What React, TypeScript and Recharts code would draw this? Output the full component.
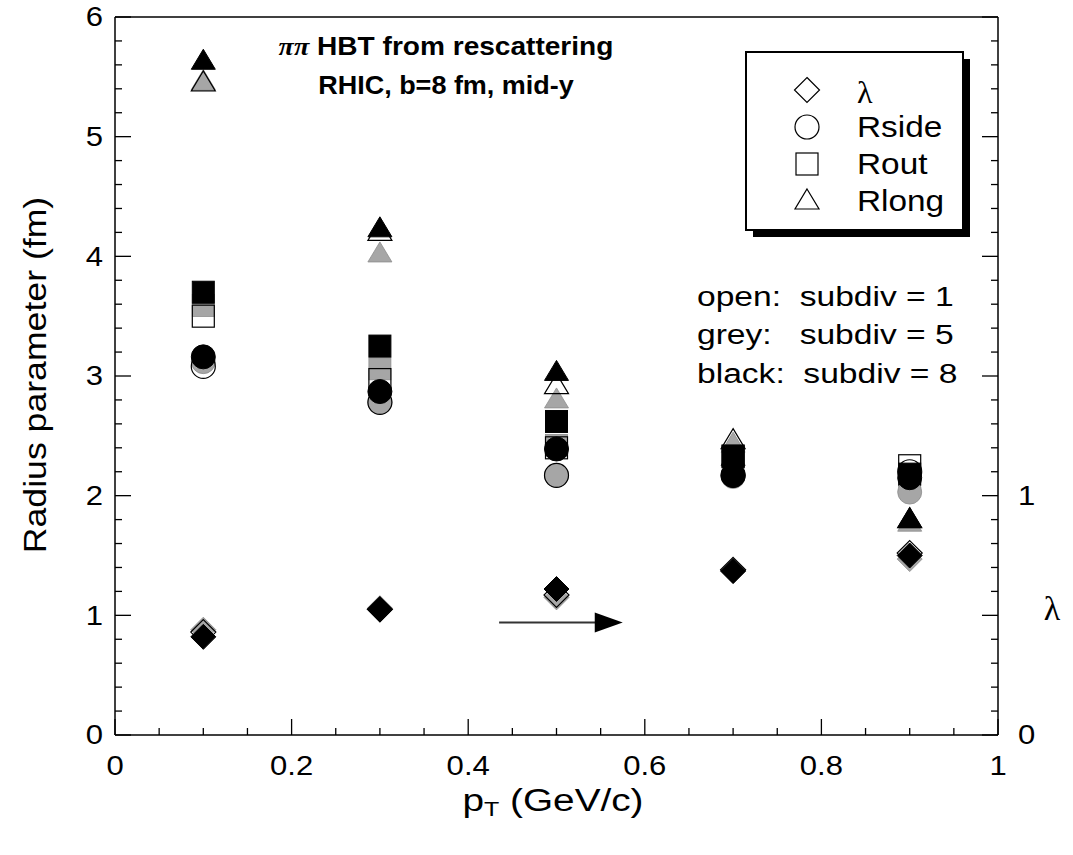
import { ScatterChart, Scatter, XAxis, YAxis, ReferenceLine } from 'recharts';

// transverse momentum bins (GeV/c)
const pT = [0.1, 0.3, 0.5, 0.7, 0.9];

// lambda (right axis)
const lambdaOpen = [0.43, 0.525, 0.585, 0.69, 0.76];
const lambdaGrey = [0.44, 0.53, 0.575, 0.685, 0.735];
const lambdaBlack = [0.41, 0.525, 0.61, 0.685, 0.75];

// radii (fm)
const rsideOpen = [3.08, 2.78, 2.17, 2.17, 2.2];
const rsideGrey = [3.12, 2.78, 2.17, 2.16, 2.03];
const rsideBlack = [3.16, 2.87, 2.39, 2.17, 2.15];

const routOpen = [3.5, 2.97, 2.4, 2.33, 2.25];
const routGrey = [3.59, 3.06, 2.42, 2.3, 2.16];
const routBlack = [3.7, 3.25, 2.62, 2.33, 2.18];

const rlongOpen = [5.45, 4.2, 2.92, 2.46, 1.8];
const rlongGrey = [5.46, 4.02, 2.8, 2.43, 1.77];
const rlongBlack = [5.63, 4.23, 3.03, 2.32, 1.8];

const xMajor = [0, 0.2, 0.4, 0.6, 0.8, 1];
const lambdaLabels = [0, 1];
const subdivNotes = ['open:  subdiv = 1', 'grey:   subdiv = 5', 'black:  subdiv = 8'];

const xTicks = Array.from({ length: 21 }, (_, i) => +(i * 0.05).toFixed(2));
const yTicks = Array.from({ length: 31 }, (_, i) => +(i * 0.2).toFixed(1));
const lamTicks = Array.from({ length: 31 }, (_, i) => +(i * 0.1).toFixed(1));

const GREY = '#a6a6a6';
const FONT = '"Liberation Sans", Arial, sans-serif';
const SERIF = '"Liberation Serif", "Times New Roman", serif';
const SX = 1.15; // the original lettering is a little wider than Arial

const pts = (ys: number[]) => pT.map((x, i) => ({ x, y: ys[i] }));

type Kind = 'diamond' | 'circle' | 'square' | 'triangle';

function symbol(kind: Kind, cx: number, cy: number, fill: string, stroke: string, sw: number) {
  if (kind === 'circle') return <circle cx={cx} cy={cy} r={12} fill={fill} stroke={stroke} strokeWidth={sw} />;
  if (kind === 'square') return <rect x={cx - 11} y={cy - 11} width={22} height={22} fill={fill} stroke={stroke} strokeWidth={sw} />;
  if (kind === 'triangle')
    return <polygon points={`${cx},${cy - 12} ${cx + 12},${cy + 8} ${cx - 12},${cy + 8}`} fill={fill} stroke={stroke} strokeWidth={sw} />;
  return <polygon points={`${cx},${cy - 12.5} ${cx + 12.5},${cy} ${cx},${cy + 12.5} ${cx - 12.5},${cy}`} fill={fill} stroke={stroke} strokeWidth={sw} />;
}

const shape = (kind: Kind, style: 'open' | 'grey' | 'black') => (p: any) => {
  if (style === 'open') return symbol(kind, p.cx, p.cy, 'none', '#000', 1.2);
  if (style === 'grey') return symbol(kind, p.cx, p.cy, GREY, '#8c8c8c', 0.8);
  return symbol(kind, p.cx, p.cy, '#000', '#000', 1);
};

// wide text: scaled horizontally around its anchor point
function WText(props: { x: number; y: number; size: number; anchor?: string; bold?: boolean; sx?: number; children: any }) {
  const { x, y, size, anchor = 'start', bold, sx = SX, children } = props;
  return (
    <text
      transform={`translate(${x},${y}) scale(${sx},1)`}
      x={0}
      y={0}
      textAnchor={anchor}
      dominantBaseline="central"
      fontSize={size}
      fontWeight={bold ? 'bold' : 'normal'}
      fontFamily={FONT}
      fill="#000"
      style={{ whiteSpace: 'pre' }}
    >
      {children}
    </text>
  );
}

const isMajor = (v: number, step: number) => Math.abs(v / step - Math.round(v / step)) < 1e-6;

const LeftTick = (p: any) => {
  const v = p.payload.value;
  const major = isMajor(v, 1);
  return (
    <g>
      <line x1={p.x} x2={p.x + (major ? 16 : 7)} y1={p.y} y2={p.y} stroke="#000" strokeWidth={1.3} />
      {major && <WText x={p.x - 12} y={p.y} size={27} anchor="end">{v}</WText>}
    </g>
  );
};

const RightTick = (p: any) => {
  const v = p.payload.value;
  const major = isMajor(v, 0.5);
  const lab = lambdaLabels.some((l) => Math.abs(l - v) < 1e-6);
  return (
    <g>
      <line x1={p.x} x2={p.x - (major ? 16 : 7)} y1={p.y} y2={p.y} stroke="#000" strokeWidth={1.3} />
      {lab && <WText x={p.x + 20} y={p.y} size={27}>{v}</WText>}
    </g>
  );
};

const BottomTick = (p: any) => {
  const v = p.payload.value;
  const major = xMajor.some((m) => Math.abs(m - v) < 1e-6);
  return (
    <g>
      <line x1={p.x} x2={p.x} y1={p.y} y2={p.y - (major ? 16 : 7)} stroke="#000" strokeWidth={1.3} />
      {major && <WText x={p.x} y={p.y + 31} size={27} anchor="middle">{v}</WText>}
    </g>
  );
};

const TopTick = (p: any) => {
  const v = p.payload.value;
  const major = xMajor.some((m) => Math.abs(m - v) < 1e-6);
  return <line x1={p.x} x2={p.x} y1={p.y} y2={p.y + (major ? 16 : 7)} stroke="#000" strokeWidth={1.3} />;
};

const Arrow = (p: any) => {
  const { x1, y1, x2 } = p;
  return (
    <g>
      <line x1={x1} y1={y1} x2={x2 - 20} y2={y1} stroke="#333" strokeWidth={2} />
      <polygon points={`${x2},${y1} ${x2 - 28},${y1 - 10} ${x2 - 28},${y1 + 10}`} fill="#000" />
    </g>
  );
};

const series: { kind: Kind; axis: string; open: number[]; grey: number[]; black: number[] }[] = [
  { kind: 'triangle', axis: 'left', open: rlongOpen, grey: rlongGrey, black: rlongBlack },
  { kind: 'square', axis: 'left', open: routOpen, grey: routGrey, black: routBlack },
  { kind: 'circle', axis: 'left', open: rsideOpen, grey: rsideGrey, black: rsideBlack },
  { kind: 'diamond', axis: 'lam', open: lambdaOpen, grey: lambdaGrey, black: lambdaBlack },
];

const legendRows: { kind: Kind; label: string }[] = [
  { kind: 'diamond', label: 'λ' },
  { kind: 'circle', label: 'Rside' },
  { kind: 'square', label: 'Rout' },
  { kind: 'triangle', label: 'Rlong' },
];

const axisLine = { stroke: '#000', strokeWidth: 1.5 };

export default function App() {
  return (
    <div style={{ position: 'relative', width: 1073, height: 855, background: '#fff' }}>
      <style>{'body{margin:0}'}</style>
      <ScatterChart width={1073} height={855} margin={{ top: 16, right: 74, bottom: 119, left: 114 }}>
        <XAxis
          dataKey="x"
          type="number"
          domain={[0, 1]}
          ticks={xTicks}
          interval={0}
          height={1}
          tickSize={0}
          tickMargin={0}
          tickLine={false}
          tick={BottomTick}
          axisLine={axisLine}
        />
        <XAxis
          xAxisId="top"
          orientation="top"
          dataKey="x"
          type="number"
          domain={[0, 1]}
          ticks={xTicks}
          interval={0}
          height={1}
          tickSize={0}
          tickMargin={0}
          tickLine={false}
          tick={TopTick}
          axisLine={axisLine}
        />
        <YAxis
          yAxisId="left"
          dataKey="y"
          type="number"
          domain={[0, 6]}
          ticks={yTicks}
          interval={0}
          width={1}
          tickSize={0}
          tickMargin={0}
          tickLine={false}
          tick={LeftTick}
          axisLine={axisLine}
        />
        <YAxis
          yAxisId="lam"
          orientation="right"
          dataKey="y"
          type="number"
          domain={[0, 3]}
          ticks={lamTicks}
          interval={0}
          width={1}
          tickSize={0}
          tickMargin={0}
          tickLine={false}
          tick={RightTick}
          axisLine={axisLine}
        />
        {series.flatMap((s) =>
          (['grey', 'open', 'black'] as const).map((st) => (
            <Scatter
              key={s.kind + st}
              yAxisId={s.axis}
              data={pts(s[st])}
              shape={shape(s.kind, st)}
              isAnimationActive={false}
            />
          ))
        )}
        <ReferenceLine
          yAxisId="left"
          segment={[
            { x: 0.435, y: 0.94 },
            { x: 0.575, y: 0.94 },
          ]}
          shape={Arrow}
        />
      </ScatterChart>

      <svg width={1073} height={855} style={{ position: 'absolute', left: 0, top: 0, pointerEvents: 'none' }}>
        {/* title */}
        <text
          transform={`translate(446,46) scale(1.08,1)`}
          textAnchor="middle"
          dominantBaseline="central"
          fontSize={26}
          fontWeight="bold"
          fontFamily={FONT}
        >
          <tspan fontFamily={SERIF} fontStyle="italic">ππ</tspan> HBT from rescattering
        </text>
        <WText x={446} y={85} size={25} anchor="middle" bold sx={1.08}>
          RHIC, b=8 fm, mid-y
        </WText>

        {/* legend box with shadow */}
        <rect x={753} y={59} width={217} height={178} fill="#000" />
        <rect x={746} y={52} width={217} height={178} fill="#fff" stroke="#000" strokeWidth={2} />
        {legendRows.map((r, i) => (
          <g key={r.label}>
            {symbol(r.kind, 807, 90 + i * 37, 'none', '#000', 1.2)}
            {r.label === 'λ' ? (
              <text x={857} y={92} dominantBaseline="central" fontSize={32} fontFamily={SERIF}>
                λ
              </text>
            ) : (
              <WText x={857} y={90 + i * 37} size={29}>
                {r.label}
              </WText>
            )}
          </g>
        ))}

        {/* subdivision notes */}
        {subdivNotes.map((t, i) => (
          <WText key={t} x={697} y={296 + i * 38.5} size={28} sx={1.2}>
            {t}
          </WText>
        ))}

        {/* axis titles */}
        <text
          transform="translate(35,375) rotate(-90) scale(1.15,1)"
          textAnchor="middle"
          dominantBaseline="central"
          fontSize={31}
          fontFamily={FONT}
        >
          Radius parameter (fm)
        </text>
        <text
          transform="translate(553,800) scale(1.25,1)"
          textAnchor="middle"
          dominantBaseline="central"
          fontSize={31}
          fontFamily={FONT}
          style={{ whiteSpace: 'pre' }}
        >
          p<tspan fontSize={20} dy={9}>T</tspan>
          <tspan dy={-9}> (GeV/c)</tspan>
        </text>
        <text x={1052} y={608} textAnchor="middle" dominantBaseline="central" fontSize={34} fontFamily={SERIF}>
          λ
        </text>
      </svg>
    </div>
  );
}
